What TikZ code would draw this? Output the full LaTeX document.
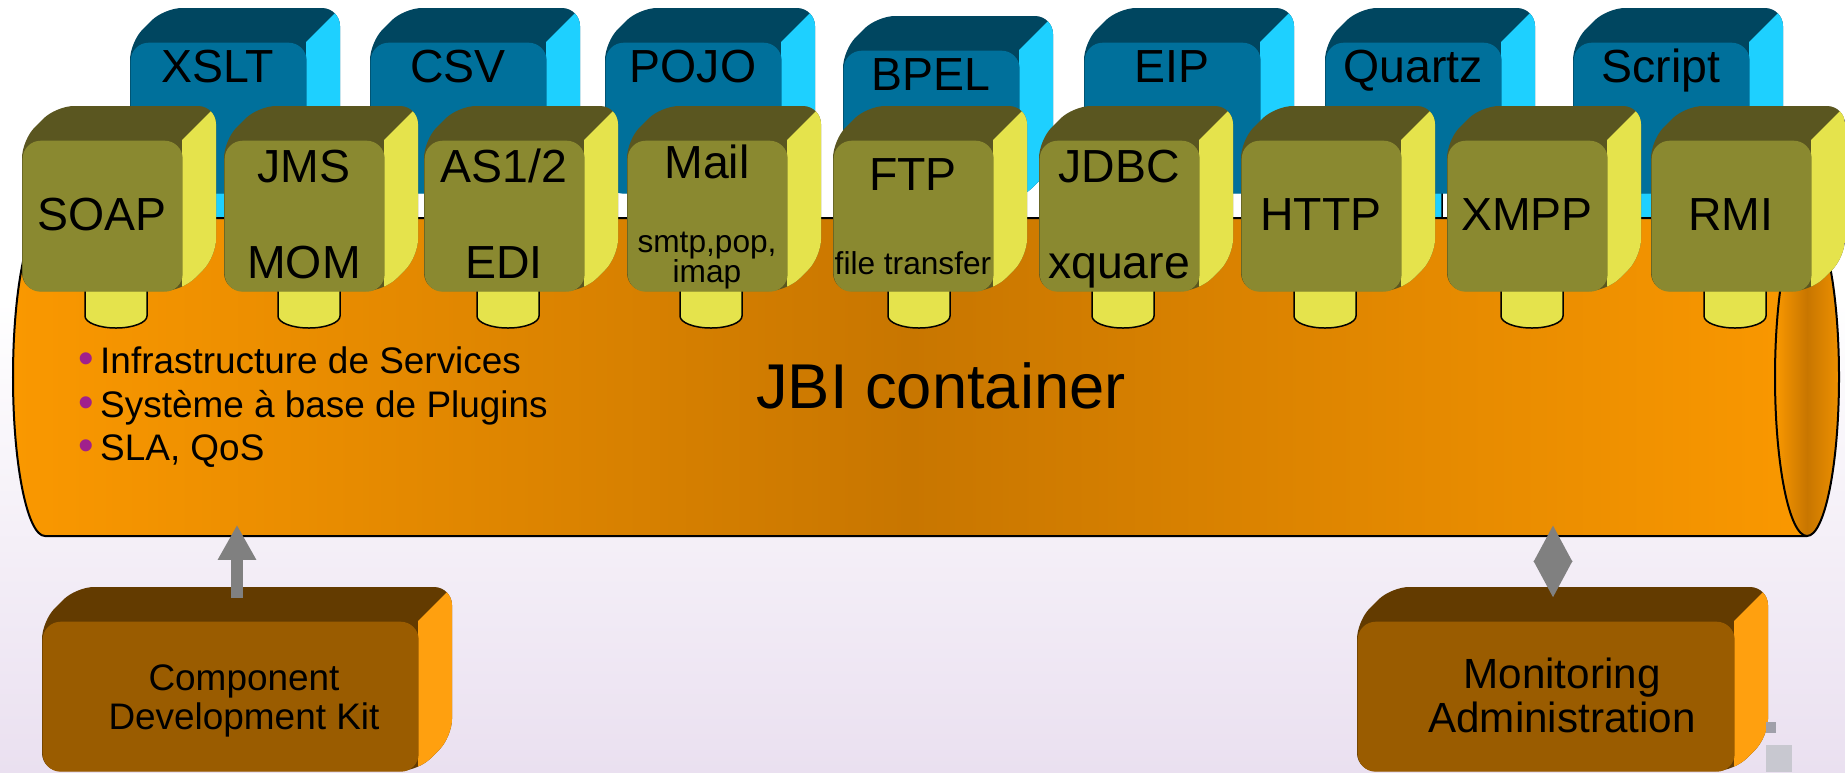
\documentclass[tikz,border=0pt]{standalone}
\usepackage{fontspec}
\setmainfont{Liberation Sans}
\usepackage{tikz}
\usetikzlibrary{arrows.meta}

\definecolor{bluefront}{RGB}{0,112,155}
\definecolor{bluetop}{RGB}{0,70,96}
\definecolor{blueside}{RGB}{30,208,255}
\definecolor{olivefront}{RGB}{138,137,48}
\definecolor{olivetop}{RGB}{90,86,32}
\definecolor{oliveside}{RGB}{229,227,76}
\definecolor{brownfront}{RGB}{154,92,0}
\definecolor{browntop}{RGB}{99,59,0}
\definecolor{brownside}{RGB}{255,160,15}
\definecolor{jbiorange}{RGB}{250,152,0}
\definecolor{jbidark}{RGB}{200,118,0}
\definecolor{bulletpurple}{RGB}{160,32,140}
\definecolor{arrowgray}{RGB}{128,128,128}
\definecolor{bglav}{RGB}{234,224,240}
\definecolor{squaredark}{RGB}{160,160,170}
\definecolor{squarelight}{RGB}{200,200,208}

\tikzstyle{face} = [rounded corners=0.18cm, inner sep=0pt, anchor=north west]
\tikzstyle{lbl} = [anchor=base, inner sep=0pt, font=\fontsize{13.2}{15.8}\selectfont]
\tikzstyle{sublbl} = [anchor=base, inner sep=0pt, font=\fontsize{9}{11}\selectfont]
\tikzstyle{kitlbl} = [anchor=base, inner sep=0pt, font=\fontsize{10.5}{12.6}\selectfont]
\tikzstyle{adminlbl} = [anchor=base, inner sep=0pt, font=\fontsize{12}{14.4}\selectfont]
\tikzstyle{feature} = [anchor=base west, inner sep=0pt, font=\fontsize{10.5}{12.6}\selectfont]
\tikzstyle{link} = [draw=arrowgray, line width=0.11cm, shorten >=-0.12cm]

\newcommand{\featdot}{\textcolor{bulletpurple}{\scalebox{1.2}{\textbullet}}\hspace{0.06cm}}

% box with depth: colour set, name, left, top, width, height
\newcommand{\cubebox}[6]{
  \fill[#1top, rounded corners=0.18cm] (#3,#4+#6) -- (#3,#4) -- ++(34,-34) -- ++(#5,0) -- ++(0,#6) -- ++(-34,34) -- cycle;
  \begin{scope}
    \clip[rounded corners=0.18cm] (#3,#4+#6) -- (#3,#4) -- ++(34,-34) -- ++(#5,0) -- ++(0,#6) -- ++(-34,34) -- cycle;
    \fill[#1side] (#3+#5,#4) -- ++(34,-34) -- ++(20,0) -- ++(0,#6+60) -- ++(-54,0) -- cycle;
  \end{scope}
  \node[face, fill=#1front, minimum width=#5*0.01cm, minimum height=#6*0.01cm] (#2) at (#3,#4) {};
}
% plug under a box: colour, left, top, straight length
\newcommand{\plug}[4]{
  \draw[fill=#1, line width=0.015cm] (#2,#3) -- ++(0,#4) arc[start angle=180, end angle=0, x radius=31, y radius=12] -- ++(0,-#4);
}

\begin{document}
\begin{tikzpicture}[x=0.01cm, y=-0.01cm]
\useasboundingbox (0,0) rectangle (1845,772);
\fill[white] (0,0) rectangle (1845,772);
\fill[top color=white, bottom color=bglav] (0,300) rectangle (1845,772);

% plugs of the engines (behind the bus)
\plug{blueside}{185}{175}{45}
\plug{blueside}{425}{175}{45}
\plug{blueside}{660}{175}{45}
\plug{blueside}{898}{175}{45}
\plug{blueside}{1139}{175}{45}
\plug{blueside}{1380}{175}{45}
\plug{blueside}{1628}{175}{45}

% the bus
\fill[left color=jbiorange, right color=jbiorange, middle color=jbidark] (45,218) -- (1807,218) -- (1807,536) -- (45,536) arc[start angle=90, end angle=270, x radius=32, y radius=159] -- cycle;
\draw[line width=0.02cm] (1807,218) -- (45,218) arc[start angle=270, end angle=90, x radius=32, y radius=159] -- (1807,536);
\draw[line width=0.02cm, left color=jbiorange, right color=jbiorange!95!black, middle color=jbidark] (1807,377) ellipse[x radius=32, y radius=159];
\node[inner sep=0pt, minimum width=17.94cm, minimum height=3.18cm] (jbi) at (926,377) {};

% service engines
\cubebox{blue}{xslt}{130}{42}{176}{151}
\cubebox{blue}{csv}{370}{42}{176}{151}
\cubebox{blue}{pojo}{605}{42}{176}{151}
\cubebox{blue}{bpel}{843}{50}{176}{151}
\cubebox{blue}{eip}{1084}{42}{176}{151}
\cubebox{blue}{quartz}{1325}{42}{176}{151}
\cubebox{blue}{script}{1573}{42}{176}{151}

% binding components
\plug{oliveside}{85}{280}{36}
\plug{oliveside}{278}{280}{36}
\plug{oliveside}{477}{280}{36}
\plug{oliveside}{680}{280}{36}
\plug{oliveside}{888}{280}{36}
\plug{oliveside}{1092}{280}{36}
\plug{oliveside}{1294}{280}{36}
\plug{oliveside}{1501}{280}{36}
\plug{oliveside}{1704}{280}{36}
\cubebox{olive}{soap}{22}{140}{160}{151}
\cubebox{olive}{jms}{224}{140}{160}{151}
\cubebox{olive}{asedi}{424}{140}{160}{151}
\cubebox{olive}{mail}{627}{140}{160}{151}
\cubebox{olive}{ftp}{833}{140}{160}{151}
\cubebox{olive}{jdbc}{1039}{140}{160}{151}
\cubebox{olive}{http}{1241}{140}{160}{151}
\cubebox{olive}{xmpp}{1447}{140}{160}{151}
\cubebox{olive}{rmi}{1651}{140}{160}{151}

% labels
\node[lbl] (txslt) at (218,82) {XSLT};
\node[lbl] (tcsv) at (458,82) {CSV};
\node[lbl] (tpojo) at (693,82) {POJO};
\node[lbl] (tbpel) at (931,90) {BPEL};
\node[lbl] (teip) at (1172,82) {EIP};
\node[lbl] (tquartz) at (1413,82) {Quartz};
\node[lbl] (tscript) at (1661,82) {Script};

\node[lbl] (tsoap) at (102,230) {SOAP};
\node[lbl] (tjms) at (304,182) {JMS};
\node[lbl] (tmom) at (304,278) {MOM};
\node[lbl] (tas) at (504,182) {AS1/2};
\node[lbl] (tedi) at (504,278) {EDI};
\node[lbl] (tmail) at (707,178) {Mail};
\node[sublbl] (tsmtp) at (707,252) {smtp,pop,};
\node[sublbl] (timap) at (707,282) {imap};
\node[lbl] (tftp) at (913,190) {FTP};
\node[sublbl] (tfile) at (913,274) {file transfer};
\node[lbl] (tjdbc) at (1119,182) {JDBC};
\node[lbl] (txquare) at (1119,278) {xquare};
\node[lbl] (thttp) at (1321,230) {HTTP};
\node[lbl] (txmpp) at (1527,230) {XMPP};
\node[lbl] (trmi) at (1731,230) {RMI};

\node[feature] (feat1) at (78,373) {\featdot Infrastructure de Services};
\node[feature] (feat2) at (78,417) {\featdot Système à base de Plugins};
\node[feature] (feat3) at (78,460) {\featdot SLA, QoS};
\node[inner sep=0pt, font=\fontsize{18}{21}\selectfont] (tjbi) at (941,386) {JBI container};

% tools
\cubebox{brown}{cdk}{42}{621}{376}{150}
\cubebox{brown}{monit}{1357}{621}{377}{150}
\node[kitlbl] (tcomp) at (244,690) {Component};
\node[kitlbl] (tdev) at (244,729) {Development Kit};
\node[adminlbl] (tmonit) at (1562,688) {Monitoring};
\node[adminlbl] (tadmin) at (1562,732) {Administration};

\coordinate (kitout) at (237,598);
\coordinate (monout) at (1553,598);
\draw[link, -{Triangle[length=0.35cm, width=0.36cm]}] (kitout) -- (kitout |- jbi.south);
\draw[link, {Triangle[length=0.37cm, width=0.36cm]}-{Triangle[length=0.37cm, width=0.36cm]}] (monout) -- (monout |- jbi.south);

\fill[squaredark] (1766,722) rectangle (1776,733);
\fill[squarelight] (1766,745) rectangle (1792,772);
\end{tikzpicture}
\end{document}
